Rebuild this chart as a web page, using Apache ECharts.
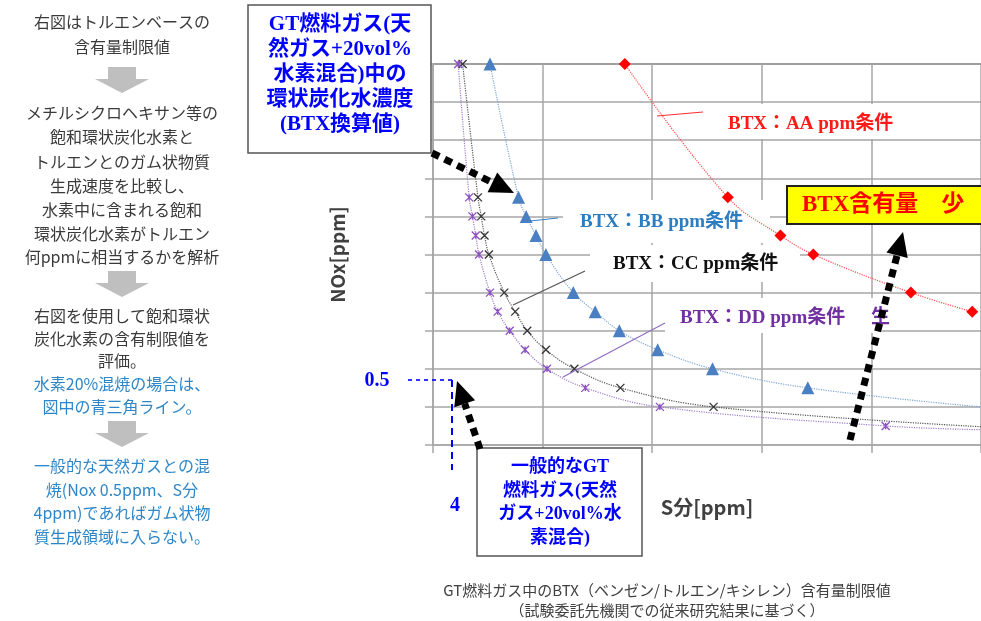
<!DOCTYPE html>
<html>
<head>
<meta charset="utf-8">
<script src="https://cdn.jsdelivr.net/npm/echarts/dist/echarts.min.js"></script>
<style>
  html, body { margin: 0; padding: 0; background: #fff; }
  #container { width: 981px; height: 621px; }
</style>
</head>
<body>
<div id="container"></div>
<script>
// 各条件の曲線（横軸: S分、縦軸: NOx、グラフ上の目盛単位で読み取り）
// 最後の点がマーカーなしの場合は曲線の延長部分
var aaX = [1.75, 2.69, 3.17, 3.47, 4.36, 4.92];
var aaY = [10, 6.5, 5.5, 5, 4, 3.5];
var bbX = [0.52, 0.78, 0.85, 0.94, 1.03, 1.28, 1.48, 1.70, 2.05, 2.55, 3.42, 5.0];
var bbY = [10, 6.5, 6, 5.5, 5, 4, 3.5, 3, 2.5, 2, 1.5, 1.0];
var ccX = [0.27, 0.41, 0.44, 0.47, 0.51, 0.65, 0.75, 0.86, 1.03, 1.29, 1.71, 2.56, 5.0];
var ccY = [10, 6.5, 6, 5.5, 5, 4, 3.5, 3, 2.5, 2, 1.5, 1, 0.48];
var ddX = [0.23, 0.33, 0.36, 0.39, 0.42, 0.52, 0.59, 0.70, 0.84, 1.04, 1.39, 2.07, 4.13, 5.0];
var ddY = [10, 6.5, 6, 5.5, 5, 4, 3.5, 3, 2.5, 2, 1.5, 1, 0.5, 0.4];

var seriesNames = ['BTX：AA ppm条件', 'BTX：BB ppm条件', 'BTX：CC ppm条件', 'BTX：DD ppm条件'];

// 左側の説明文
var noteLines = [
    ['右図はトルエンベースの', 22, 0],
    ['含有量制限値', 47, 0],
    ['メチルシクロヘキサン等の', 113, 0],
    ['飽和環状炭化水素と', 137, 0],
    ['トルエンとのガム状物質', 162, 0],
    ['生成速度を比較し、', 186, 0],
    ['水素中に含まれる飽和', 210, 0],
    ['環状炭化水素がトルエン', 234, 0],
    ['何ppmに相当するかを解析', 257, 0],
    ['右図を使用して飽和環状', 316, 0],
    ['炭化水素の含有制限値を', 339, 0],
    ['評価。', 361, 0],
    ['水素20%混焼の場合は、', 384, 1],
    ['図中の青三角ライン。', 407, 1],
    ['一般的な天然ガスとの混', 466, 1],
    ['焼(Nox 0.5ppm、S分', 490, 1],
    ['4ppm)であればガム状物', 513, 1],
    ['質生成領域に入らない。', 537, 1]
];
var captionLines = [
    'GT燃料ガス中のBTX（ベンゼン/トルエン/キシレン）含有量制限値',
    '（試験委託先機関での従来研究結果に基づく）'
];

var myChart = echarts.init(document.getElementById('container'));

function toPoints(xs, ys, openEnd) {
    return xs.map(function (x, i) {
        var item = { value: [x, ys[i]] };
        if (openEnd && i === xs.length - 1) {
            item.symbol = 'none';
        }
        return item;
    });
}

function curve(name, xs, ys, openEnd, color, lineColor, symbol, size, filled) {
    return {
        name: name,
        type: 'line',
        smooth: 0.4,
        data: toPoints(xs, ys, openEnd),
        symbol: symbol,
        symbolSize: size,
        z: 3,
        lineStyle: { color: lineColor, width: 1.2, type: 'dotted' },
        itemStyle: filled
            ? { color: color }
            : { color: 'rgba(0,0,0,0)', borderColor: color, borderWidth: 1.3 }
    };
}

var FONT_SERIF = '"Liberation Serif", "Noto Sans CJK JP", serif';
var FONT_SANS = '"Noto Sans CJK JP", "Noto Sans", sans-serif';

function text(str, x, y, fill, font, align, lineHeight) {
    return {
        type: 'text', x: x, y: y, z: 12,
        style: {
            text: str, fill: fill, font: font,
            align: align || 'left', verticalAlign: 'middle',
            lineHeight: lineHeight || null
        }
    };
}

function rect(x, y, w, h, fill, stroke, lw, z) {
    return {
        type: 'rect', z: z || 1,
        shape: { x: x, y: y, width: w, height: h },
        style: { fill: fill, stroke: stroke || null, lineWidth: lw || 0 }
    };
}

function seg(x1, y1, x2, y2, color, lw, dash) {
    return {
        type: 'line', z: 4,
        shape: { x1: x1, y1: y1, x2: x2, y2: y2 },
        style: { stroke: color, lineWidth: lw, lineDash: dash || null }
    };
}

// 太い点線の矢印
function dottedArrow(x1, y1, x2, y2) {
    var dx = x2 - x1, dy = y2 - y1;
    var len = Math.sqrt(dx * dx + dy * dy);
    var ux = dx / len, uy = dy / len;
    var hl = 24, hw = 11;
    var bx = x2 - ux * hl, by = y2 - uy * hl;
    return [
        {
            type: 'line', z: 20,
            shape: { x1: x1, y1: y1, x2: bx, y2: by },
            style: { stroke: '#000', lineWidth: 7, lineDash: [8, 6] }
        },
        {
            type: 'polygon', z: 20,
            shape: { points: [[x2, y2], [bx - uy * hw, by + ux * hw], [bx + uy * hw, by - ux * hw]] },
            style: { fill: '#000' }
        }
    ];
}

// 灰色の下向き矢印
function downArrow(cx, top) {
    return {
        type: 'polygon', z: 5,
        shape: {
            points: [
                [cx - 14, top], [cx + 14, top], [cx + 14, top + 12], [cx + 27, top + 12],
                [cx, top + 26], [cx - 27, top + 12], [cx - 14, top + 12]
            ]
        },
        style: { fill: '#bfbfbf' }
    };
}

var graphics = [];

// 左の説明文
noteLines.forEach(function (ln) {
    graphics.push(text(ln[0], 122, ln[1], ln[2] ? '#2e86c8' : '#3a3a3a', '16px ' + FONT_SANS, 'center'));
});
graphics.push(downArrow(122, 67));
graphics.push(downArrow(122, 271));
graphics.push(downArrow(122, 421));

// キャプション
graphics.push(text(captionLines[0], 667, 590, '#404040', '15px ' + FONT_SANS, 'center'));
graphics.push(text(captionLines[1], 667, 610, '#404040', '15px ' + FONT_SANS, 'center'));

// 左上の説明ボックス
graphics.push(rect(248, 5, 183, 148, '#fff', '#555', 1.5, 6));
graphics.push(text('GT燃料ガス(天\n然ガス+20vol%\n水素混合)中の\n環状炭化水濃度\n(BTX換算値)', 340, 75, '#0000ff',
    'bold 21px ' + FONT_SERIF, 'center', 25));

// 下の説明ボックス
graphics.push(rect(477, 448, 165, 108, '#fff', '#555', 1.5, 6));
graphics.push(text('一般的なGT\n燃料ガス(天然\nガス+20vol%水\n素混合)', 560, 503, '#0000ff',
    'bold 18px ' + FONT_SERIF, 'center', 23.5));

// 系列ラベル（白背景）
graphics.push(rect(700, 104, 223, 35, '#fff'));
graphics.push(text(seriesNames[0], 728, 124, '#ff1a1a', 'bold 19px ' + FONT_SERIF));
graphics.push(rect(563, 200, 207, 43, '#fff'));
graphics.push(text(seriesNames[1], 580, 222, '#2e7dc0', 'bold 19px ' + FONT_SERIF));
graphics.push(rect(590, 245, 210, 37, '#fff'));
graphics.push(text(seriesNames[2], 613, 264, '#111', 'bold 19px ' + FONT_SERIF));
graphics.push(rect(665, 298, 217, 35, '#fff'));
graphics.push(text(seriesNames[3], 680, 318, '#7030a0', 'bold 19px ' + FONT_SERIF));
graphics.push(text('生', 871, 318, '#7030a0', 'bold 19px ' + FONT_SERIF));

// 引き出し線
graphics.push(seg(657, 116, 703, 112, '#ff3030', 1.2));
graphics.push(seg(530, 221, 558, 218, '#3d7fc4', 1.2));
graphics.push(seg(513, 305, 585, 271, '#555', 1.2));
graphics.push(seg(563, 377, 665, 323, '#8f6cc0', 1.2));

// BTX含有量 少
graphics.push(rect(787, 186, 210, 38, '#ffff00', '#222', 2, 6));
graphics.push(text('BTX含有量　少', 802, 205, '#ff0000', 'bold 23px ' + FONT_SERIF));

// NOx 0.5 / S分 4 の補助線
graphics.push(seg(408, 380, 452, 380, '#0000ff', 1.6, [4, 4]));
graphics.push(seg(452, 380, 452, 470, '#0000ff', 2, [7, 5]));
graphics.push(text('0.5', 377, 381, '#0000ff', 'bold 20px ' + FONT_SERIF, 'center'));
graphics.push(text('4', 455, 506, '#0000ff', 'bold 20px ' + FONT_SERIF, 'center'));

// 矢印
graphics = graphics.concat(dottedArrow(432, 153, 514, 193));
graphics = graphics.concat(dottedArrow(480, 449, 457, 381));
graphics = graphics.concat(dottedArrow(850, 440, 903, 232));

var gridLine = { color: '#a6a6a6', width: 1.5 };
// 一番上の線だけ少し濃い
var ySplitColors = ['#a6a6a6', '#a6a6a6', '#a6a6a6', '#a6a6a6', '#a6a6a6', '#a6a6a6',
    '#a6a6a6', '#a6a6a6', '#a6a6a6', '#a6a6a6', '#7f7f7f'];

var option = {
    animation: false,
    backgroundColor: '#fff',
    grid: { left: 433, top: 64, width: 555, height: 381 },
    xAxis: {
        type: 'value', min: 0, max: 5, interval: 1,
        name: 'S分[ppm]', nameLocation: 'middle', nameGap: 52,
        nameTextStyle: { fontSize: 20, fontWeight: 'bold', color: '#404040', fontFamily: FONT_SANS },
        axisLine: { show: true, lineStyle: gridLine },
        axisTick: { show: true, length: 8, lineStyle: gridLine },
        axisLabel: { show: false },
        splitLine: { show: true, lineStyle: gridLine }
    },
    yAxis: {
        type: 'value', min: 0, max: 10, interval: 1,
        name: 'NOx[ppm]', nameLocation: 'middle', nameGap: 86, nameRotate: 90,
        nameTextStyle: { fontSize: 19, fontWeight: 'bold', color: '#404040', fontFamily: FONT_SANS },
        axisLine: { show: true, lineStyle: gridLine },
        axisTick: { show: true, length: 8, lineStyle: gridLine },
        axisLabel: { show: false },
        splitLine: { show: true, lineStyle: { color: ySplitColors, width: 1.5 } }
    },
    series: [
        curve(seriesNames[0], aaX, aaY, false, '#ff0000', '#ff4d4d', 'diamond', 12, true),
        curve(seriesNames[1], bbX, bbY, true, '#4a7fc1', '#7fa6d6', 'triangle', 13, true),
        curve(seriesNames[2], ccX, ccY, true, '#333', '#555', 'path://M0,0L10,10M10,0L0,10', 8, false),
        curve(seriesNames[3], ddX, ddY, true, '#8a4fc0', '#a07ccc', 'path://M0,0L10,10M10,0L0,10M5,1L5,9', 8, false)
    ],
    graphic: { elements: graphics }
};

myChart.setOption(option);
</script>
</body>
</html>
